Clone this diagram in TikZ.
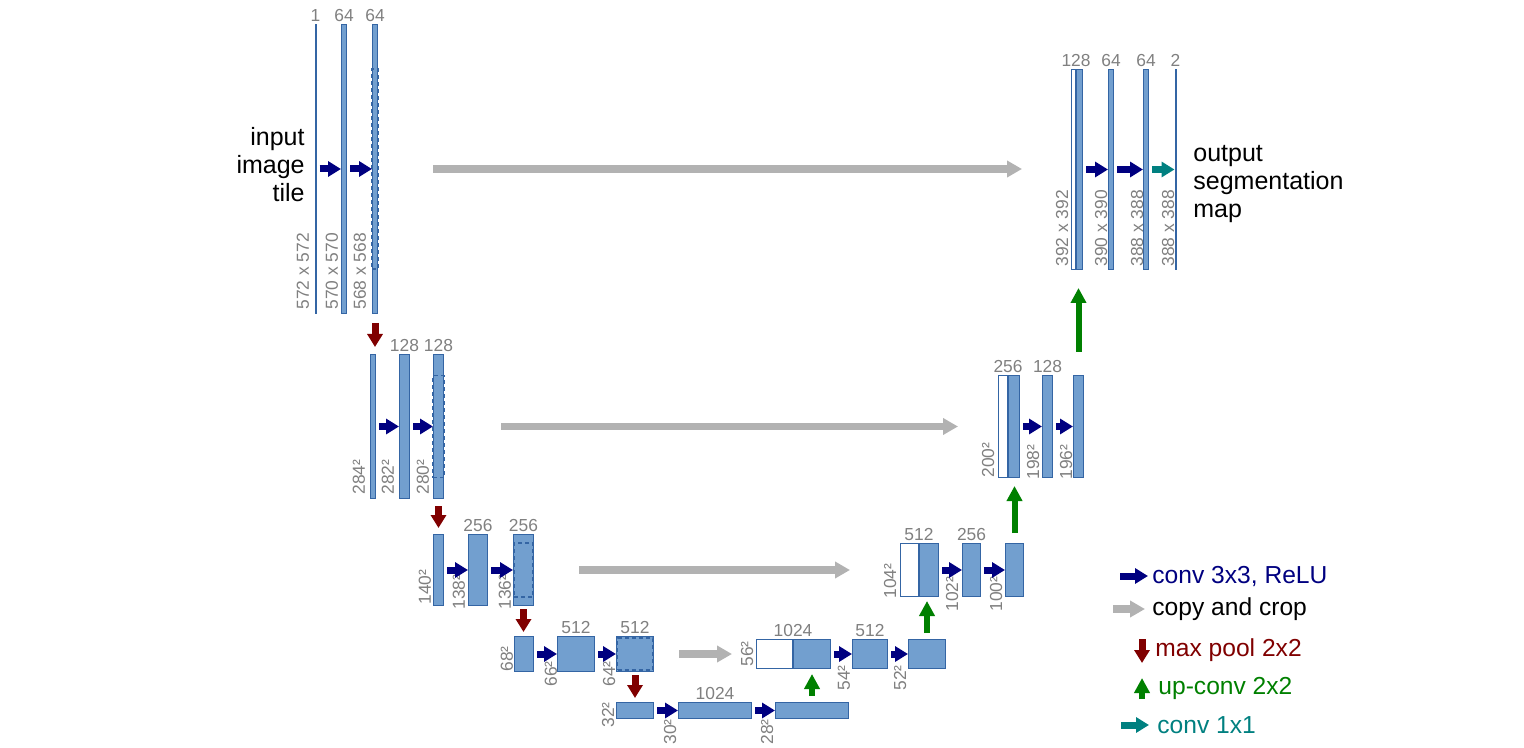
\documentclass[tikz,border=0pt]{standalone}
\usepackage{fontspec}
\setmainfont{Liberation Sans}
\usetikzlibrary{arrows.meta,positioning}
\definecolor{fmfill}{RGB}{114,159,207}
\definecolor{fmline}{RGB}{52,101,164}
\definecolor{labgray}{RGB}{128,128,128}
\definecolor{cpgray}{RGB}{178,178,178}
\definecolor{convblue}{RGB}{0,0,128}
\definecolor{poolred}{RGB}{128,0,0}
\definecolor{upgreen}{RGB}{0,128,0}
\definecolor{oneteal}{RGB}{0,128,128}

\begin{document}
\begin{tikzpicture}[x=0.5pt, y=-0.5pt,
  sz/.style 2 args={minimum width=#1*0.5pt, minimum height=#2*0.5pt},
  fmap/.style={rectangle, draw=fmline, fill=fmfill, line width=0.5pt, inner sep=0pt, anchor=north west},
  cpbox/.style={fmap, fill=white},
  crop/.style={rectangle, draw=fmline, line width=0.9pt, dash pattern=on 2pt off 1.5pt, inner sep=0pt},
  lbl/.style={text=labgray, font=\fontsize{8.7}{10}\selectfont, inner sep=1pt},
  dim/.style={lbl, rotate=90, anchor=west, inner sep=0pt},
  txt/.style={font=\fontsize{12.5}{14}\selectfont, inner sep=0pt},
  leg/.style={font=\fontsize{12.3}{14}\selectfont, inner sep=0pt, anchor=west},
  conv/.style={-{Triangle[length=6.5pt,width=7.5pt]}, line width=3.5pt, convblue, shorten <=1.5pt},
  copy/.style={-{Triangle[length=7.5pt,width=8pt]}, line width=3.8pt, cpgray},
  pool/.style={-{Triangle[length=6.5pt,width=7.5pt]}, line width=3.5pt, poolred},
  upc/.style={-{Triangle[length=7.5pt,width=7.5pt]}, line width=3pt, upgreen},
  one/.style={conv, oneteal}]

\useasboundingbox (0,0) rectangle (1524,748);

% contracting path
\node[fmap, sz={1}{289}] (a1) at (314.5,24) {};
\node[fmap, sz={5}{289}] (a2) at (341,24) {};
\node[fmap, sz={5}{289}] (a3) at (372,24) {};
\node[crop, sz={6}{200}] (k1) at (a3.center) {};

\node[fmap, sz={5}{144}] (b1) at (370,354) {};
\node[fmap, sz={10}{144}] (b2) at (399,354) {};
\node[fmap, sz={10}{144}] (b3) at (433,354) {};
\node[crop, sz={11}{102}] (k2) at (b3.center) {};

\node[fmap, sz={10}{71}] (c1) at (433,534) {};
\node[fmap, sz={19}{71}] (c2) at (468,534) {};
\node[fmap, sz={20}{71}] (c3) at (513,534) {};
\node[crop, sz={19}{54}] (k3) at (c3.center) {};

\node[fmap, sz={19}{35}] (d1) at (514,636) {};
\node[fmap, sz={37}{35}] (d2) at (557,636) {};
\node[fmap, sz={37}{35}] (d3) at (616,636) {};
\node[crop, sz={35}{32}] (k4) at (d3.center) {};

% bottom
\node[fmap, sz={37}{16}] (e1) at (616,702) {};
\node[fmap, sz={73}{16}] (e2) at (678,702) {};
\node[fmap, sz={73}{16}] (e3) at (775,702) {};

% expanding path
\node[cpbox, sz={36}{29}] (f0) at (756,639) {};
\node[fmap, sz={37}{29}, right=0pt of f0] (f1) {};
\node[fmap, sz={35}{29}] (f2) at (852,639) {};
\node[fmap, sz={37}{29}] (f3) at (908,639) {};

\node[cpbox, sz={18}{53}] (g0) at (900,543) {};
\node[fmap, sz={19}{53}, right=0pt of g0] (g1) {};
\node[fmap, sz={18}{53}] (g2) at (962,543) {};
\node[fmap, sz={18}{53}] (g3) at (1005,543) {};

\node[cpbox, sz={9}{102}] (h0) at (998,375) {};
\node[fmap, sz={11}{102}, right=0pt of h0] (h1) {};
\node[fmap, sz={10}{102}] (h2) at (1042,375) {};
\node[fmap, sz={10}{102}] (h3) at (1073,375) {};

\node[cpbox, sz={4}{200}] (i0) at (1071,69) {};
\node[fmap, sz={6}{200}, right=0pt of i0] (i1) {};
\node[fmap, sz={5}{200}] (i2) at (1108,69) {};
\node[fmap, sz={5}{200}] (i3) at (1143,69) {};
\node[fmap, sz={1}{200}] (i4) at (1174.5,69) {};

% channels
\node[lbl, above] (ta1) at (a1.north) {1};
\node[lbl, above] (ta2) at (a2.north) {64};
\node[lbl, above] (ta3) at (a3.north) {64};
\node[lbl, above] (tb2) at (b2.north) {128};
\node[lbl, above] (tb3) at (b3.north) {128};
\node[lbl, above] (tc2) at (c2.north) {256};
\node[lbl, above] (tc3) at (c3.north) {256};
\node[lbl, above] (td2) at (d2.north) {512};
\node[lbl, above] (td3) at (d3.north) {512};
\node[lbl, above] (te2) at (e2.north) {1024};
\node[lbl, above] (tf1) at (f0.north east) {1024};
\node[lbl, above] (tf2) at (f2.north) {512};
\node[lbl, above] (tg1) at (g0.north east) {512};
\node[lbl, above] (tg2) at (g2.north) {256};
\node[lbl, above] (th1) at (h0.north east) {256};
\node[lbl, above] (th2) at (h2.north) {128};
\node[lbl, above] (ti1) at (i0.north east) {128};
\node[lbl, above] (ti2) at (i2.north) {64};
\node[lbl, above] (ti3) at (i3.north) {64};
\node[lbl, above] (ti4) at (i4.north) {2};

% sizes
\node[dim] (sa1) at (303,310) {572 x 572};
\node[dim] (sa2) at (332,310) {570 x 570};
\node[dim] (sa3) at (360,310) {568 x 568};
\node[dim] (sb1) at (359,495) {284²};
\node[dim] (sb2) at (388,495) {282²};
\node[dim] (sb3) at (423,495) {280²};
\node[dim] (sc1) at (425,605) {140²};
\node[dim] (sc2) at (459,610) {138²};
\node[dim] (sc3) at (505,610) {136²};
\node[dim] (sd1) at (507,672) {68²};
\node[dim] (sd2) at (551,687) {66²};
\node[dim] (sd3) at (609,687) {64²};
\node[dim] (se1) at (608,728) {32²};
\node[dim] (se2) at (670,745) {30²};
\node[dim] (se3) at (767,745) {28²};
\node[dim] (sf1) at (747,667) {56²};
\node[dim] (sf2) at (844,691) {54²};
\node[dim] (sf3) at (900,691) {52²};
\node[dim] (sg1) at (890,599) {104²};
\node[dim] (sg2) at (952,612) {102²};
\node[dim] (sg3) at (996,612) {100²};
\node[dim] (sh1) at (988,478) {200²};
\node[dim] (sh2) at (1033,480) {198²};
\node[dim] (sh3) at (1066,480) {196²};
\node[dim] (si1) at (1062,267) {392 x 392};
\node[dim] (si2) at (1101,267) {390 x 390};
\node[dim] (si3) at (1137,267) {388 x 388};
\node[dim] (si4) at (1168,267) {388 x 388};

\node[txt, align=right, anchor=east] (inp) at (305,164.5) {input\\image\\tile};
\node[txt, align=left, anchor=west] (outp) at (1193,184.5) {output\\segmentation\\map};

% conv 3x3
\draw[conv] (a1.east) -- (a2.west);
\draw[conv] (a2.east) -- (a3.west);
\draw[conv] (b1.east) -- (b2.west);
\draw[conv] (b2.east) -- (b3.west);
\draw[conv] (c1.east) -- (c2.west);
\draw[conv] (c2.east) -- (c3.west);
\draw[conv] (d1.east) -- (d2.west);
\draw[conv] (d2.east) -- (d3.west);
\draw[conv] (e1.east) -- (e2.west);
\draw[conv] (e2.east) -- (e3.west);
\draw[conv] (f1.east) -- (f2.west);
\draw[conv] (f2.east) -- (f3.west);
\draw[conv] (g1.east) -- (g2.west);
\draw[conv] (g2.east) -- (g3.west);
\draw[conv] (h1.east) -- (h2.west);
\draw[conv] (h2.east) -- (h3.west);
\draw[conv] (i1.east) -- (i2.west);
\draw[conv] (i2.east) -- (i3.west);
\draw[one] (i3.east) -- (i4.west);

% copy and crop
\draw[copy, shorten <=27.5pt, shorten >=24.5pt] (a3.east) -- (a3.east -| i0.west);
\draw[copy, shorten <=28.5pt, shorten >=20pt] (b3.east) -- (b3.east -| h0.west);
\draw[copy, shorten <=22.5pt, shorten >=25pt] (c3.east) -- (c3.east -| g0.west);
\draw[copy, shorten <=12.5pt, shorten >=12pt] (d3.east) -- (d3.east -| f0.west);

% max pool
\draw[pool, shorten <=4.5pt, shorten >=3.5pt] (a3.south) -- (a3.south |- b1.north);
\draw[pool, shorten <=3.5pt, shorten >=3pt] (b3.south) -- (b3.south |- c1.north);
\draw[pool, shorten <=1.5pt, shorten >=2pt] (c3.south) -- (c3.south |- d1.north);
\draw[pool, shorten <=1.5pt, shorten >=2pt] (d3.south) -- (d3.south |- e1.north);

% up-conv
\draw[upc, shorten <=3pt, shorten >=2.5pt] (e3.north) -- (e3.north |- f1.south);
\draw[upc, shorten <=3pt, shorten >=2pt] (f3.north) -- (f3.north |- g1.south);
\draw[upc, shorten <=5pt, shorten >=4pt] (g3.north) -- (g3.north |- h1.south);
\draw[upc, shorten <=11.5pt, shorten >=9pt] (h3.north) -- (h3.north |- i1.south);

% legend
\node[leg, text=convblue] (lg1) at (1152,576) {conv 3x3, ReLU};
\node[leg] (lg2) at (1152,609) {copy and crop};
\node[leg, text=poolred] (lg3) at (1155,650) {max pool 2x2};
\node[leg, text=upgreen] (lg4) at (1158,688) {up-conv 2x2};
\node[leg, text=oneteal] (lg5) at (1157,725) {conv 1x1};
\draw[conv, shorten <=0pt] ([xshift=-16pt]lg1.west) -- ([xshift=-2pt]lg1.west);
\draw[copy] ([xshift=-19.5pt]lg2.west) -- ([xshift=-3.5pt]lg2.west);
\draw[pool] ([xshift=-6.5pt,yshift=5.5pt]lg3.west) -- ([xshift=-6.5pt,yshift=-6.5pt]lg3.west);
\draw[upc] ([xshift=-8pt,yshift=-5.5pt]lg4.west) -- ([xshift=-8pt,yshift=5pt]lg4.west);
\draw[one, shorten <=0pt] ([xshift=-18pt]lg5.west) -- ([xshift=-4pt]lg5.west);
\end{tikzpicture}
\end{document}
